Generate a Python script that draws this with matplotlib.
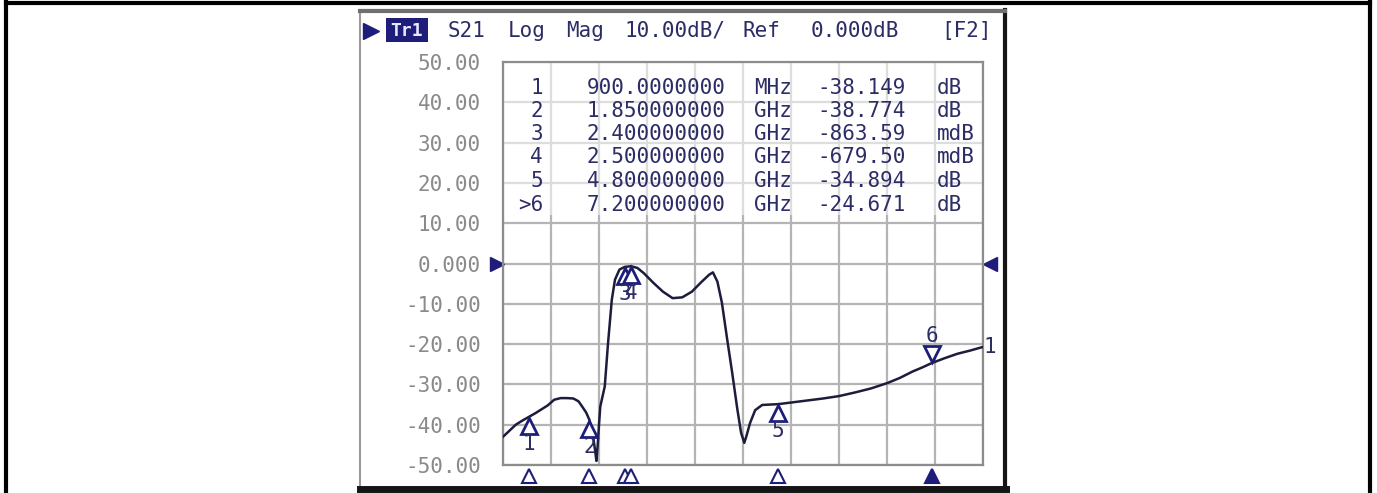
import matplotlib.pyplot as plt
from matplotlib.patches import Rectangle
from matplotlib.lines import Line2D
from matplotlib.transforms import offset_copy

# trace S21 (GHz, dB)
freq_ghz = [0.50, 0.60, 0.70, 0.80, 0.90, 1.00, 1.10, 1.20, 1.30, 1.40, 1.50, 1.60,
            1.68, 1.75, 1.80, 1.85, 1.90, 1.94, 1.96, 1.98, 2.00, 2.02, 2.09, 2.14,
            2.20, 2.25, 2.32, 2.40, 2.50, 2.60, 2.70, 2.85, 3.00, 3.15, 3.30, 3.45,
            3.60, 3.72, 3.78, 3.85, 3.92, 4.00, 4.08, 4.16, 4.22, 4.27, 4.30, 4.36,
            4.44, 4.55, 4.80, 5.00, 5.25, 5.50, 5.75, 6.00, 6.25, 6.50, 6.70, 6.90,
            7.05, 7.20, 7.40, 7.60, 7.80, 8.00]
s21_db = [-43.0, -41.5, -40.0, -39.0, -38.1, -37.2, -36.2, -35.2, -33.8, -33.4, -33.4, -33.5,
          -34.2, -35.8, -37.0, -38.8, -42.0, -46.5, -49.0, -45.0, -40.0, -35.5, -30.5, -20.0,
          -9.0, -4.0, -1.5, -0.86, -0.68, -1.1, -2.4, -4.8, -7.0, -8.6, -8.4, -7.0,
          -4.6, -2.8, -2.2, -4.5, -9.7, -18.5, -27.0, -36.0, -42.0, -44.5, -43.0, -39.6,
          -36.4, -35.1, -34.9, -34.5, -34.0, -33.5, -32.9, -32.0, -31.0, -29.7, -28.4, -26.8,
          -25.8, -24.7, -23.5, -22.4, -21.6, -20.7]

# markers
marker_ids = ["1", "2", "3", "4", "5", "6"]
marker_rows = ["1", "2", "3", "4", "5", ">6"]
marker_ghz = [0.9, 1.85, 2.4, 2.5, 4.8, 7.2]
marker_db = [-38.149, -38.774, -0.86359, -0.6795, -34.894, -24.671]
marker_freq_text = ["900.0000000", "1.850000000", "2.400000000",
                    "2.500000000", "4.800000000", "7.200000000"]
marker_freq_unit = ["MHz", "GHz", "GHz", "GHz", "GHz", "GHz"]
marker_val_text = ["-38.149", "-38.774", "-863.59", "-679.50", "-34.894", "-24.671"]
marker_val_unit = ["dB", "dB", "mdB", "mdB", "dB", "dB"]

y_ticks = [50, 40, 30, 20, 10, 0, -10, -20, -30, -40, -50]
y_labels = ["50.00", "40.00", "30.00", "20.00", "10.00", "0.000",
            "-10.00", "-20.00", "-30.00", "-40.00", "-50.00"]
f_start, f_stop = 0.5, 8.0

header_words = ["S21", "Log", "Mag", "10.00dB/", "Ref", "0.000dB", "[F2]"]

NAVY = "#1e1e7a"
TXT = "#2c2c66"
MONO = "DejaVu Sans Mono"
FS = 15
W, H = 1377, 493

fig = plt.figure(figsize=(W / 100, H / 100), dpi=100)


def fx(px):
    return px / W


def fy(py):
    return 1 - py / H


# outer page border
for xs, ys in [([6, 6], [0, H]), ([1370, 1370], [0, H]), ([6, 1370], [3, 3])]:
    fig.add_artist(Line2D([fx(v) for v in xs], [fy(v) for v in ys], color="black", lw=3))

# screenshot frame (kept below the axes)
fig.add_artist(Rectangle((fx(360), fy(490)), fx(646), 480 / H, transform=fig.transFigure,
                         facecolor="white", edgecolor="#9a9a9a", lw=1.5, zorder=-5))
fig.add_artist(Line2D([fx(360), fx(1006)], [fy(489), fy(489)], color="#151515", lw=5))
fig.add_artist(Line2D([fx(1005), fx(1005)], [fy(10), fy(489)], color="#151515", lw=3))
fig.add_artist(Line2D([fx(360), fx(1005)], [fy(11), fy(11)], color="#707070", lw=3))

# header line
fig.add_artist(Line2D([fx(371)], [fy(31)], marker=">", color=NAVY, markersize=11))
fig.add_artist(Rectangle((fx(386), fy(42)), fx(42), 24 / H, transform=fig.transFigure,
                         facecolor=NAVY, edgecolor="none"))
fig.text(fx(407), fy(31), "Tr1", color="#e8e8ff", fontsize=13, family=MONO,
         ha="center", va="center", weight="bold")
header_x = [467, 527, 585, 675, 761, 855, 967]
for word, xc in zip(header_words, header_x):
    fig.text(fx(xc), fy(31), word, color=TXT, fontsize=FS, family=MONO,
             ha="center", va="center")

ax = fig.add_axes([fx(503), fy(465), fx(480), 403 / H])
ax.set_xlim(f_start, f_stop)
ax.set_ylim(-50, 50)

step = (f_stop - f_start) / 10
ax.set_xticks([f_start + i * step for i in range(11)])
ax.set_yticks(y_ticks)
ax.set_yticklabels(y_labels, family=MONO, fontsize=FS, color="#8a8a8a")
ax.tick_params(axis="x", length=0, labelbottom=False)
ax.tick_params(axis="y", length=0, pad=16)
ax.grid(True, color="#b4b4b4", lw=1.6)
ax.set_axisbelow(True)
for s in ax.spines.values():
    s.set_color("#8c8c8c")
    s.set_linewidth(1.6)

# marker table overlay
ax.add_patch(Rectangle((f_start, 12), f_stop - f_start, 38, facecolor="white",
                       alpha=0.55, edgecolor="none", zorder=1.5))
row_y = [88, 111, 134, 157, 181, 205]
for i in range(len(marker_rows)):
    yy = fy(row_y[i])
    fig.text(fx(543), yy, marker_rows[i], ha="right", va="center", family=MONO,
             fontsize=FS, color=TXT)
    fig.text(fx(656), yy, marker_freq_text[i], ha="center", va="center", family=MONO,
             fontsize=FS, color=TXT)
    fig.text(fx(773), yy, marker_freq_unit[i], ha="center", va="center", family=MONO,
             fontsize=FS, color=TXT)
    fig.text(fx(862), yy, marker_val_text[i], ha="center", va="center", family=MONO,
             fontsize=FS, color=TXT)
    fig.text(fx(937), yy, marker_val_unit[i], ha="left", va="center", family=MONO,
             fontsize=FS, color=TXT)

# trace
ax.plot(freq_ghz, s21_db, color="#1c1c3c", lw=1.8, zorder=3)
ax.text(f_stop, s21_db[-1], "1", family=MONO, fontsize=FS, color=TXT,
        ha="left", va="center", clip_on=False)

# markers on the trace
below = offset_copy(ax.transData, fig=fig, x=0, y=-9, units="dots")
above = offset_copy(ax.transData, fig=fig, x=0, y=9, units="dots")
lab_below = offset_copy(ax.transData, fig=fig, x=0, y=-27, units="dots")
lab_above = offset_copy(ax.transData, fig=fig, x=0, y=27, units="dots")
for mid, f, v in zip(marker_ids, marker_ghz, marker_db):
    if mid == "6":
        ax.plot(f, v, marker="v", ms=11, mfc="white", mec=NAVY, mew=2, transform=above,
                zorder=4)
        ax.text(f, v, mid, transform=lab_above, ha="center", va="center", family=MONO,
                fontsize=FS, color=TXT, zorder=5)
    else:
        ax.plot(f, v, marker="^", ms=11, mfc="white", mec=NAVY, mew=2, transform=below,
                zorder=4)
        ax.text(f, v, mid, transform=lab_below, ha="center", va="center", family=MONO,
                fontsize=FS, color=TXT, zorder=5)

# marker position triangles under the grid
bx = ax.get_xaxis_transform()
for mid, f in zip(marker_ids, marker_ghz):
    filled = mid == "6"
    ax.plot(f, -0.028, marker="^", ms=10, mfc=NAVY if filled else "white", mec=NAVY,
            mew=1.5, transform=bx, clip_on=False)

# reference level arrows
ry = ax.get_yaxis_transform()
ax.plot(-0.012, 0, marker=">", ms=10, color=NAVY, transform=ry, clip_on=False)
ax.plot(1.015, 0, marker="<", ms=10, color=NAVY, transform=ry, clip_on=False)

fig.savefig("out.png", dpi=100)
